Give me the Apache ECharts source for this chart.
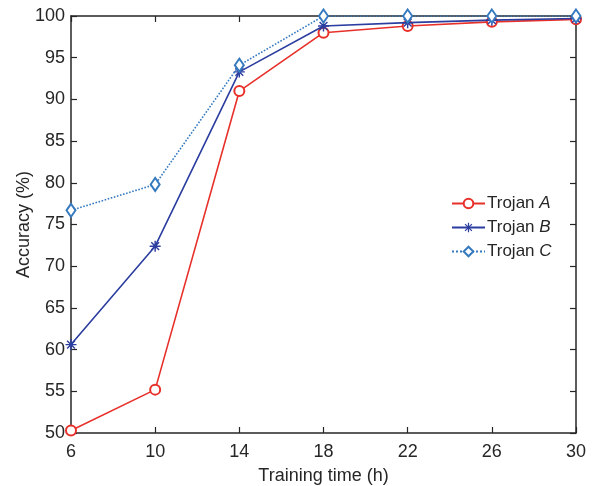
<!DOCTYPE html>
<html>
<head>
<meta charset="utf-8">
<script src="https://cdn.jsdelivr.net/npm/echarts@6/dist/echarts.min.js"></script>
<style>
  html, body { margin: 0; padding: 0; background: #fff; }
  #chart { width: 593px; height: 486px; }
</style>
</head>
<body>
<div id="chart"></div>
<script>
const hours = ['6', '10', '14', '18', '22', '26', '30']
const trojanA = [50.3, 55.2, 91.0, 98.0, 98.8, 99.3, 99.6]
const trojanB = [60.6, 72.4, 93.3, 98.8, 99.2, 99.5, 99.7]
const trojanC = [76.7, 79.8, 94.1, 100, 100, 100, 100]

const axisColor = '#262626'
const font = 'Liberation Sans, Arial, sans-serif'

// asterisk made of four thin bars
const asterisk = 'path://M-1.3,-10L1.3,-10L1.3,10L-1.3,10Z' +
  'M-10,-1.3L10,-1.3L10,1.3L-10,1.3Z' +
  'M-8,-6.2L-6.2,-8L8,6.2L6.2,8Z' +
  'M6.2,-8L8,-6.2L-6.2,8L-8,6.2Z'

const chart = echarts.init(document.getElementById('chart'))

const boxAxis = {
  axisLine: { show: true, onZero: false, lineStyle: { color: axisColor, width: 1.5 } },
  axisTick: { show: true, inside: true, length: 6, lineStyle: { color: axisColor, width: 1.2 } },
  axisLabel: { show: false },
  splitLine: { show: false },
}

chart.setOption({
  animation: false,
  textStyle: { fontFamily: font },
  grid: { left: 71, top: 16, right: 17, bottom: 53, outerBoundsMode: 'none', containLabel: false },
  legend: {
    orient: 'vertical',
    left: 446,
    top: 190,
    itemWidth: 33,
    itemHeight: 12,
    itemGap: 7,
    textStyle: {
      fontSize: 17,
      color: axisColor,
      padding: [0, 0, 0, -3],
      rich: { i: { fontStyle: 'italic', fontSize: 17, color: axisColor } },
    },
    formatter: (name) => 'Trojan {i|' + name.split(' ')[1] + '}',
    data: ['Trojan A', 'Trojan B', 'Trojan C'],
  },
  xAxis: [
    {
      type: 'category',
      data: hours,
      boundaryGap: false,
      name: 'Training time (h)',
      nameLocation: 'middle',
      nameGap: 34,
      nameMoveOverlap: false,
      nameTextStyle: { fontSize: 18, color: axisColor },
      axisLine: { lineStyle: { color: axisColor, width: 1.5 } },
      axisTick: { inside: true, length: 6, alignWithLabel: true, lineStyle: { color: axisColor, width: 1.2 } },
      axisLabel: { fontSize: 18, color: axisColor, margin: 10, interval: 0 },
      splitLine: { show: false },
    },
    Object.assign({ type: 'category', data: hours, boundaryGap: false, position: 'top' }, boxAxis),
  ],
  yAxis: [
    {
      type: 'value',
      min: 50,
      max: 100,
      interval: 5,
      name: 'Accuracy (%)',
      nameLocation: 'middle',
      nameGap: 38,
      nameMoveOverlap: false,
      nameTextStyle: { fontSize: 18, color: axisColor },
      axisLine: { show: true, lineStyle: { color: axisColor, width: 1.5 } },
      axisTick: { show: true, inside: true, length: 6, lineStyle: { color: axisColor, width: 1.2 } },
      axisLabel: { fontSize: 18, color: axisColor, margin: 6 },
      splitLine: { show: false },
    },
    Object.assign({ type: 'value', min: 50, max: 100, interval: 5, position: 'right' }, boxAxis),
  ],
  series: [
    {
      name: 'Trojan A',
      type: 'line',
      data: trojanA,
      symbol: 'emptyCircle',
      symbolSize: 10,
      color: '#e8302a',
      lineStyle: { width: 1.6, color: '#e8302a' },
      itemStyle: { color: '#e8302a', borderWidth: 1.5 },
      z: 3,
    },
    {
      name: 'Trojan B',
      type: 'line',
      data: trojanB,
      symbol: asterisk,
      symbolSize: 11,
      color: '#2b3d9f',
      lineStyle: { width: 1.6, color: '#2b3d9f' },
      itemStyle: { color: '#2b3d9f', borderWidth: 0 },
      z: 4,
    },
    {
      name: 'Trojan C',
      type: 'line',
      data: trojanC,
      symbol: 'emptyDiamond',
      symbolSize: [9, 13],
      color: '#3579bf',
      lineStyle: { width: 1.6, type: 'dotted', color: '#3579bf' },
      itemStyle: { color: '#3579bf', borderWidth: 1.5 },
      z: 5,
    },
  ],
})
</script>
</body>
</html>
